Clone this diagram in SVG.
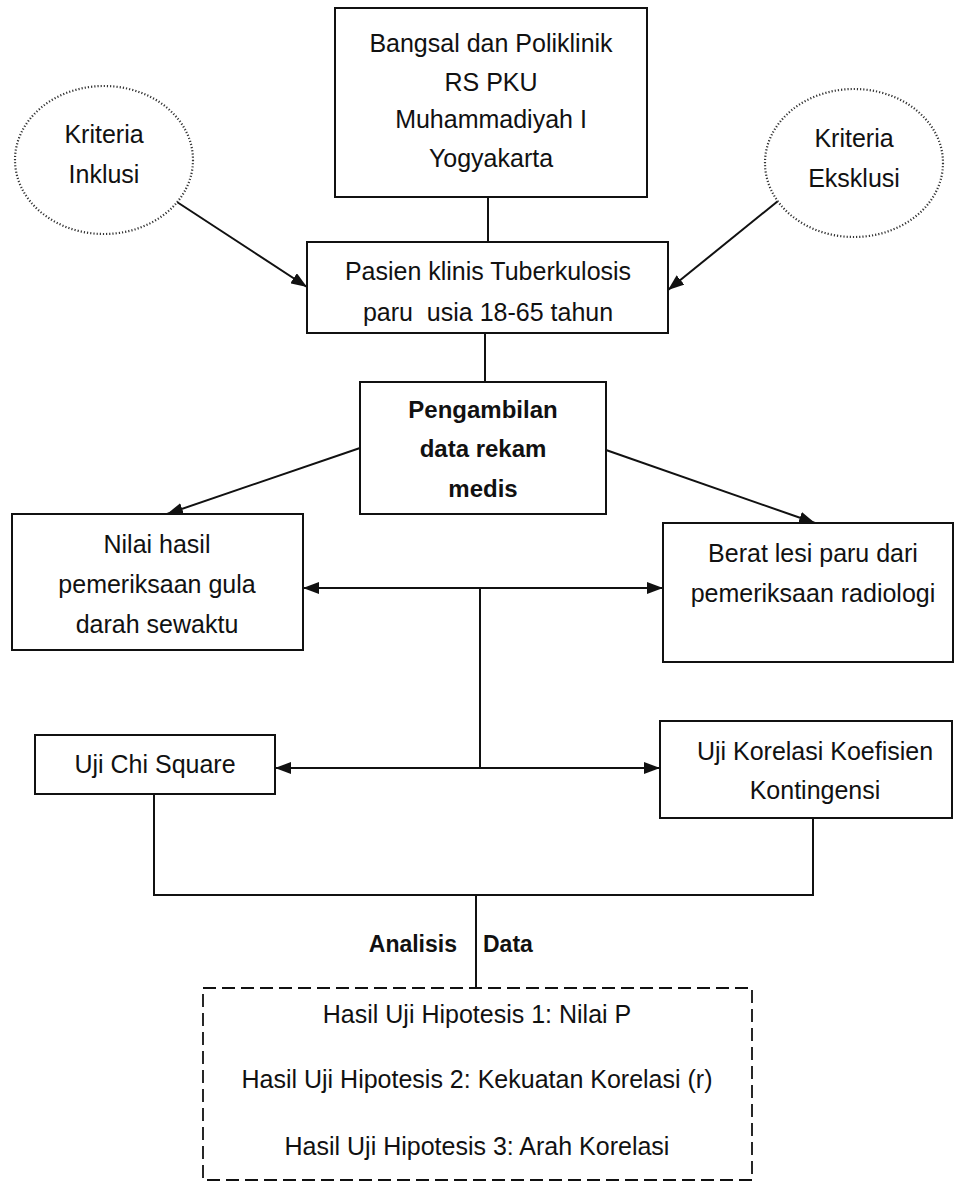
<svg xmlns="http://www.w3.org/2000/svg" width="957" height="1185" viewBox="0 0 957 1185">
<style>
text{font-family:"Liberation Sans",Arial,sans-serif;font-size:25px;fill:#111;text-anchor:middle}
.b{font-weight:bold;font-size:24px}
.box{fill:#fff;stroke:#111;stroke-width:2}
.ell{fill:#fff;stroke:#333;stroke-width:2.2;stroke-dasharray:1.2 2}
.dash{fill:none;stroke:#111;stroke-width:1.8;stroke-dasharray:13 6}
.ln{fill:none;stroke:#111;stroke-width:2}
</style>
<defs>
<marker id="ah" viewBox="0 0 16 12" refX="16" refY="6" markerWidth="16" markerHeight="12" markerUnits="userSpaceOnUse" orient="auto-start-reverse">
<path d="M0,0 L16,6 L0,12 z" fill="#111"/>
</marker>
</defs>
<rect width="957" height="1185" fill="#fff"/>
<g id="connectors">
<line class="ln" x1="488" y1="197" x2="488" y2="242"/>
<line class="ln" x1="485" y1="333" x2="485" y2="382"/>
<line class="ln" x1="177" y1="202" x2="307" y2="287" marker-end="url(#ah)"/>
<line class="ln" x1="778" y1="201" x2="668" y2="290" marker-end="url(#ah)"/>
<line class="ln" x1="360" y1="448" x2="167" y2="514" marker-end="url(#ah)"/>
<line class="ln" x1="606" y1="450" x2="815" y2="523" marker-end="url(#ah)"/>
<line class="ln" x1="303" y1="588" x2="663" y2="588" marker-start="url(#ah)" marker-end="url(#ah)"/>
<line class="ln" x1="480" y1="588" x2="480" y2="768"/>
<line class="ln" x1="275" y1="768" x2="660" y2="768" marker-start="url(#ah)" marker-end="url(#ah)"/>
<polyline class="ln" points="154,794 154,895 813,895 813,818"/>
<line class="ln" x1="476" y1="895" x2="476" y2="988"/>
</g>
<g id="bangsal">
<rect class="box" x="335" y="8" width="312" height="189"/>
<text x="491" y="52">Bangsal dan Poliklinik</text>
<text x="491" y="91">RS PKU</text>
<text x="491" y="128">Muhammadiyah I</text>
<text x="491" y="167">Yogyakarta</text>
</g>
<g id="inklusi">
<ellipse class="ell" cx="104" cy="160" rx="89" ry="74"/>
<text x="104" y="143">Kriteria</text>
<text x="104" y="183">Inklusi</text>
</g>
<g id="eksklusi">
<ellipse class="ell" cx="854" cy="163" rx="89" ry="74"/>
<text x="854" y="147">Kriteria</text>
<text x="854" y="187">Eksklusi</text>
</g>
<g id="pasien">
<rect class="box" x="307" y="242" width="361" height="91"/>
<text x="488" y="280">Pasien klinis Tuberkulosis</text>
<text x="488" y="321" xml:space="preserve">paru  usia 18-65 tahun</text>
</g>
<g id="pengambilan">
<rect class="box" x="360" y="382" width="246" height="132"/>
<text class="b" x="483" y="418">Pengambilan</text>
<text class="b" x="483" y="457">data rekam</text>
<text class="b" x="483" y="497">medis</text>
</g>
<g id="gula">
<rect class="box" x="12" y="514" width="291" height="136"/>
<text x="157" y="553">Nilai hasil</text>
<text x="157" y="593">pemeriksaan gula</text>
<text x="157" y="633">darah sewaktu</text>
</g>
<g id="lesi">
<rect class="box" x="663" y="523" width="290" height="139"/>
<text x="813" y="562">Berat lesi paru dari</text>
<text x="813" y="602">pemeriksaan radiologi</text>
</g>
<g id="chi">
<rect class="box" x="35" y="735" width="240" height="59"/>
<text x="155" y="773">Uji Chi Square</text>
</g>
<g id="korelasi">
<rect class="box" x="660" y="721" width="292" height="97"/>
<text x="815" y="760">Uji Korelasi Koefisien</text>
<text x="815" y="799">Kontingensi</text>
</g>
<g id="analisis">
<text class="b" x="457" y="952" style="text-anchor:end;font-size:23px">Analisis</text>
<text class="b" x="483" y="952" style="text-anchor:start;font-size:23px">Data</text>
</g>
<g id="hasil">
<rect class="dash" x="203" y="988" width="549" height="192"/>
<text x="477" y="1023">Hasil Uji Hipotesis 1: Nilai P</text>
<text x="477" y="1088">Hasil Uji Hipotesis 2: Kekuatan Korelasi (r)</text>
<text x="477" y="1155">Hasil Uji Hipotesis 3: Arah Korelasi</text>
</g>
</svg>
